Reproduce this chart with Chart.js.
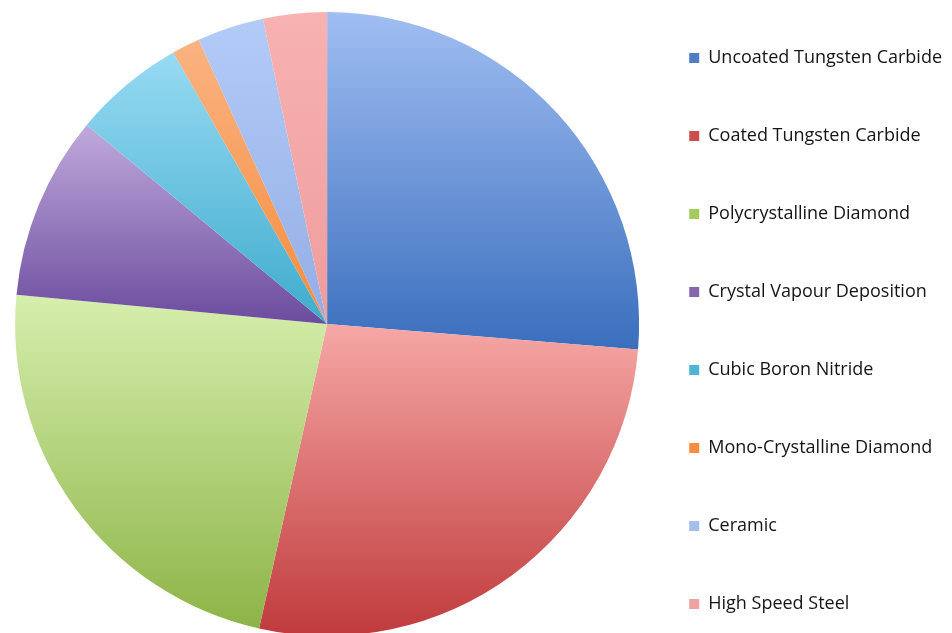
<!DOCTYPE html>
<html>
<head>
<meta charset="utf-8">
<script src="https://cdn.jsdelivr.net/npm/chart.js@4/dist/chart.umd.min.js"></script>
<style>
  html, body { margin: 0; padding: 0; background: #fff; overflow: hidden; }
  #wrap { position: relative; width: 952px; height: 633px; overflow: hidden; }
  #holder { position: absolute; left: 0; top: -36px; width: 952px; height: 720px; }
</style>
</head>
<body>
<div id="wrap">
  <div id="holder"><canvas id="toolChart"></canvas></div>
</div>
<script>
// tool material share (%)
var materials = ['Uncoated Tungsten Carbide', 'Coated Tungsten Carbide', 'Polycrystalline Diamond',
    'Crystal Vapour Deposition', 'Cubic Boron Nitride', 'Mono-Crystalline Diamond', 'Ceramic', 'High Speed Steel'];
var shares = [26.3, 27.2, 23.0, 9.5, 5.8, 1.45, 3.45, 3.3];

// slice gradients, light at the top of each slice, darker at the bottom
var topColors = ['#a0bef2', '#f6a8a6', '#d6efae', '#c0aadc', '#98daf3', '#fbb382', '#b3cbf7', '#f7b2b1'];
var bottomColors = ['#3a6ebd', '#c03a3c', '#8db447', '#6b4b9e', '#3eaccd', '#f48c3c', '#93aee6', '#ee9c9c'];
var legendColors = ['#4d7ec5', '#cd4e4e', '#a3cb5e', '#8667ae', '#4cb4d7', '#f58e42', '#a6beec', '#eea2a2'];

var pieRadius = 312;

function sliceFill(context) {
    var chart = context.chart;
    var area = chart.chartArea;
    var i = context.dataIndex;
    if (!area || i === undefined) return legendColors[i] || '#999';
    var cx = (area.left + area.right) / 2;
    var cy = (area.top + area.bottom) / 2;
    var total = shares.reduce(function (a, b) { return a + b; }, 0);
    var before = 0;
    for (var k = 0; k < i; k++) before += shares[k];
    // angles measured clockwise from 12 o'clock
    var a0 = before / total * Math.PI * 2;
    var a1 = (before + shares[i]) / total * Math.PI * 2;
    var ys = [cy, cy - pieRadius * Math.cos(a0), cy - pieRadius * Math.cos(a1)];
    if (a0 <= 0) ys.push(cy - pieRadius);
    if (a0 <= Math.PI && a1 >= Math.PI) ys.push(cy + pieRadius);
    var minY = Math.min.apply(null, ys);
    var maxY = Math.max.apply(null, ys);
    var g = chart.ctx.createLinearGradient(0, minY, 0, maxY);
    g.addColorStop(0, topColors[i]);
    g.addColorStop(1, bottomColors[i]);
    return g;
}

const config = {
    type: 'pie',
    data: {
        labels: materials,
        datasets: [{
            data: shares,
            backgroundColor: sliceFill,
            borderWidth: 0,
            radius: pieRadius
        }]
    },
    options: {
        responsive: true,
        maintainAspectRatio: false,
        animation: false,
        layout: {
            padding: { left: 25, right: 0, top: 0, bottom: 0 }
        },
        plugins: {
            tooltip: { enabled: false },
            legend: {
                position: 'right',
                align: 'center',
                title: {
                    display: true,
                    text: '',
                    font: { size: 10 },
                    padding: 1
                },
                labels: {
                    boxWidth: 10,
                    boxHeight: 10,
                    padding: 60,
                    color: '#151515',
                    font: { family: 'Open Sans', size: 18 },
                    generateLabels: function (chart) {
                        var items = Chart.overrides.pie.plugins.legend.labels.generateLabels(chart);
                        items.forEach(function (item, idx) {
                            item.fillStyle = legendColors[idx];
                            item.strokeStyle = legendColors[idx];
                            item.lineWidth = 0;
                        });
                        return items;
                    }
                }
            }
        }
    }
};

const toolChart = new Chart(document.getElementById('toolChart'), config);
</script>
</body>
</html>
